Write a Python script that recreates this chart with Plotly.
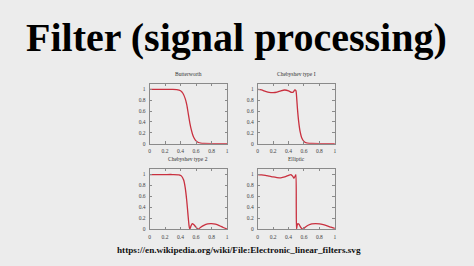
import plotly.graph_objects as go

# ---- data ----
titles = ["Butterworth", "Chebyshev type I", "Chebyshev type 2", "Elliptic"]

butter_x = [0, 0.1, 0.2, 0.3, 0.35, 0.4, 0.43, 0.46, 0.48, 0.5, 0.52, 0.54, 0.56, 0.58, 0.6, 0.63, 0.66, 0.7, 0.8, 0.9, 1.0]
butter_y = [1, 1, 1, 1, 0.995, 0.975, 0.93, 0.83, 0.72, 0.55, 0.38, 0.25, 0.15, 0.09, 0.05, 0.02, 0.008, 0.002, 0, 0, 0]

cheb1_x = [0, 0.05, 0.1, 0.15, 0.2, 0.25, 0.3, 0.35, 0.4, 0.44, 0.46, 0.48, 0.495, 0.505, 0.515, 0.53, 0.55, 0.57, 0.6, 0.63, 0.67, 0.7, 0.8, 0.9, 1.0]
cheb1_y = [1, 0.99, 0.965, 0.945, 0.94, 0.95, 0.975, 0.99, 0.975, 0.945, 0.95, 0.99, 0.98, 0.85, 0.65, 0.42, 0.22, 0.11, 0.04, 0.015, 0.005, 0.002, 0, 0, 0]

cheb2_x = [0, 0.1, 0.2, 0.3, 0.38, 0.41, 0.44, 0.46, 0.48, 0.495, 0.51, 0.52, 0.535, 0.55, 0.57, 0.6, 0.63, 0.66, 0.7, 0.75, 0.8, 0.85, 0.9, 0.95, 1.0]
cheb2_y = [1, 1, 1, 1, 0.995, 0.975, 0.9, 0.76, 0.52, 0.28, 0.06, 0.0, 0.06, 0.1, 0.085, 0.035, 0.0, 0.035, 0.07, 0.095, 0.1, 0.09, 0.065, 0.03, 0.0]

ellip_x = [0, 0.05, 0.1, 0.15, 0.2, 0.25, 0.3, 0.35, 0.4, 0.43, 0.455, 0.47, 0.485, 0.495, 0.5, 0.503, 0.51, 0.52, 0.535, 0.55, 0.57, 0.585, 0.62, 0.66, 0.7, 0.75, 0.8, 0.85, 0.9, 0.95, 1.0]
ellip_y = [1, 0.995, 0.985, 0.97, 0.955, 0.945, 0.94, 0.955, 0.985, 1.0, 0.965, 0.93, 0.97, 1.0, 0.4, 0.0, 0.06, 0.1, 0.09, 0.05, 0.01, 0.0, 0.04, 0.075, 0.095, 0.1, 0.095, 0.08, 0.06, 0.035, 0.015]

x_ticks = [0, 0.2, 0.4, 0.6, 0.8, 1]
x_tick_text = ["0", "0.2", "0.4", "0.6", "0.8", "1"]
y_ticks = [0, 0.2, 0.4, 0.6, 0.8, 1]
y_tick_text = ["0", "0.2", "0.4", "0.6", "0.8", "1"]

main_title = "Filter (signal processing)"
source_text = "https://en.wikipedia.org/wiki/File:Electronic_linear_filters.svg"

# ---- layout ----
W, H = 474, 266
bg = "#ececec"
line_col = "#c9303f"

series = [(butter_x, butter_y), (cheb1_x, cheb1_y), (cheb2_x, cheb2_y), (ellip_x, ellip_y)]
# pixel boxes (left, right, top, bottom)
boxes = [(149.5, 227.5, 85, 145.5), (258.3, 336, 85, 145.5),
         (149.5, 227.5, 171, 232), (258.3, 336, 171, 232)]

fig = go.Figure()
layout = dict(width=W, height=H, margin=dict(l=0, r=0, t=0, b=0),
              paper_bgcolor=bg, plot_bgcolor=bg, showlegend=False)

annotations = []
for i, ((xs, ys), (l, r, t, b)) in enumerate(zip(series, boxes)):
    n = "" if i == 0 else str(i + 1)
    fig.add_trace(go.Scatter(x=xs, y=ys, mode="lines", line=dict(color=line_col, width=1.3, shape="spline", smoothing=0.6),
                             xaxis="x" + n, yaxis="y" + n, hoverinfo="skip"))
    axcommon = dict(showline=True, linecolor="#8a8a8a", linewidth=0.8, mirror="allticks",
                    ticks="inside", ticklen=2.5, tickwidth=0.7, tickcolor="#8a8a8a",
                    showgrid=False, zeroline=False, fixedrange=True,
                    tickfont=dict(family="Liberation Serif", size=5.5, color="#444"))
    layout["xaxis" + n] = dict(axcommon, domain=[l / W, r / W], range=[0, 1],
                               tickvals=x_ticks, ticktext=x_tick_text, anchor="y" + n, ticklabelstandoff=2)
    layout["yaxis" + n] = dict(axcommon, domain=[1 - b / H, 1 - t / H], range=[-0.005, 1.1],
                               tickvals=y_ticks, ticktext=y_tick_text, anchor="x" + n, ticklabelstandoff=2)
    annotations.append(dict(text=titles[i], x=(l + r) / 2 / W, y=1 - (t - 10) / H, xref="paper", yref="paper",
                            showarrow=False, font=dict(family="Liberation Serif", size=5.5, color="#333"),
                            xanchor="center", yanchor="middle"))

annotations.append(dict(text="<b>" + main_title + "</b>", x=0.5, y=1 - 38 / H, xref="paper", yref="paper",
                        showarrow=False, font=dict(family="Liberation Serif", size=40, color="#000"),
                        xanchor="center", yanchor="middle"))
annotations.append(dict(text="<b>" + source_text + "</b>", x=115 / W, y=1 - 253 / H, xref="paper", yref="paper",
                        showarrow=False, font=dict(family="Liberation Serif", size=9.2, color="#111"),
                        xanchor="left", yanchor="middle"))
layout["annotations"] = annotations
fig.update_layout(**layout)
fig.write_html("out.html")
